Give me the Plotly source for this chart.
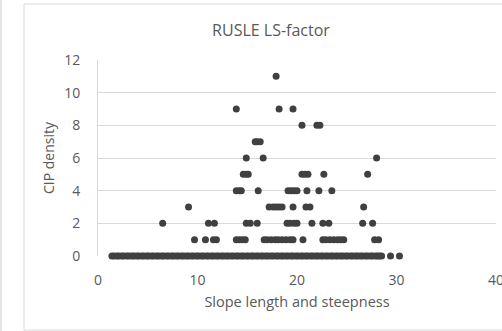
import plotly.graph_objects as go

# RUSLE LS-factor values for each CIP density level
ls_at_0 = [1.4, 1.6, 1.9, 2.1, 2.4, 2.6, 2.9, 3.1, 3.4, 3.6, 3.9, 4.1, 4.4, 4.6, 4.9,
           5.1, 5.4, 5.6, 5.9, 6.1, 6.4, 6.6, 6.9, 7.1, 7.4, 7.6, 7.9, 8.1, 8.4, 8.6,
           8.9, 9.1, 9.4, 9.6, 9.9, 10.1, 10.4, 10.6, 10.9, 11.1, 11.4, 11.6, 11.9,
           12.1, 12.4, 12.6, 12.9, 13.1, 13.4, 13.6, 13.9, 14.1, 14.4, 14.6, 14.9,
           15.1, 15.4, 15.6, 15.9, 16.1, 16.4, 16.6, 16.9, 17.1, 17.4, 17.6, 17.9,
           18.1, 18.4, 18.6, 18.9, 19.1, 19.4, 19.6, 19.9, 20.1, 20.4, 20.6, 20.9,
           21.1, 21.4, 21.6, 21.9, 22.1, 22.4, 22.6, 22.9, 23.1, 23.4, 23.6, 23.9,
           24.1, 24.4, 24.6, 24.9, 25.1, 25.4, 25.6, 25.9, 26.1, 26.4, 26.6, 26.9,
           27.1, 27.4, 27.6, 27.9, 28.1, 28.3, 28.5, 29.4, 30.3]
ls_at_1 = [9.7, 10.8, 11.6, 11.9, 13.9, 14.2, 14.5, 14.8, 16.7, 17.0, 17.4, 17.8, 18.1,
           18.5, 18.9, 19.3, 19.6, 20.6, 22.6, 22.9, 23.3, 23.7, 24.1, 24.4, 24.7, 27.8, 28.2]
ls_at_2 = [6.5, 11.1, 11.7, 14.9, 15.3, 16.0, 19.0, 19.3, 19.7, 20.0, 21.5, 22.6, 23.2,
           26.6, 27.6]
ls_at_3 = [9.1, 17.2, 17.6, 17.9, 18.2, 18.5, 19.6, 20.9, 21.3, 26.7]
ls_at_4 = [13.9, 14.2, 14.4, 16.1, 19.1, 19.4, 19.7, 20.0, 21.0, 22.2, 23.5]
ls_at_5 = [14.6, 14.9, 15.1, 20.5, 20.8, 21.1, 22.7, 27.1]
ls_at_6 = [14.9, 16.6, 28.0]
ls_at_7 = [15.8, 16.0, 16.3]
ls_at_8 = [20.5, 22.0, 22.3]
ls_at_9 = [13.9, 18.2, 19.6]
ls_at_11 = [17.9]

levels = {0: ls_at_0, 1: ls_at_1, 2: ls_at_2, 3: ls_at_3, 4: ls_at_4, 5: ls_at_5,
          6: ls_at_6, 7: ls_at_7, 8: ls_at_8, 9: ls_at_9, 11: ls_at_11}

xs, ys = [], []
for density, ls_values in levels.items():
    xs.extend(ls_values)
    ys.extend([density] * len(ls_values))

FONT = "Open Sans"
GREY = "#595959"
GRID = "#d9d9d9"
CLEAR = "rgba(0,0,0,0)"

fig = go.Figure(go.Scatter(
    x=xs, y=ys, mode="markers", cliponaxis=False,
    marker=dict(size=7, color="#404040", line=dict(width=0)),
    showlegend=False,
))

fig.update_layout(
    width=502, height=331,
    margin=dict(l=98, r=6, t=60, b=75),
    paper_bgcolor="white", plot_bgcolor="white",
    title=dict(text="RUSLE LS-factor", x=271 / 502, xanchor="center",
               y=1 - 30 / 331, yanchor="middle",
               font=dict(family=FONT, size=16, color=GREY)),
    xaxis=dict(range=[0, 40], dtick=10, showgrid=False, zeroline=False,
               showline=False, ticks="outside", ticklen=11, tickcolor=CLEAR,
               ticklabeloverflow="allow", automargin=False,
               tickfont=dict(family=FONT, size=14, color=GREY),
               title=dict(text="Slope length and steepness", standoff=9,
                          font=dict(family=FONT, size=14.5, color=GREY))),
    yaxis=dict(range=[0, 12], dtick=2, showgrid=True, gridcolor=GRID, gridwidth=1,
               zeroline=False, showline=True, linecolor=GRID, linewidth=1,
               ticks="outside", ticklen=14, tickcolor=CLEAR, automargin=False,
               tickfont=dict(family=FONT, size=14, color=GREY),
               title=dict(text="CIP density", standoff=6,
                          font=dict(family=FONT, size=14, color=GREY))),
    shapes=[
        # chart border
        dict(type="rect", xref="paper", yref="paper",
             x0=(24 - 98) / 398, x1=(505 - 98) / 398,
             y0=(256 - 330) / 196, y1=(256 - 4) / 196,
             line=dict(color=GRID, width=1), layer="below"),
        # neighbouring panel edge
        dict(type="line", xref="paper", yref="paper",
             x0=(1 - 98) / 398, x1=(1 - 98) / 398,
             y0=(256 - 331) / 196, y1=(256 - 0) / 196,
             line=dict(color="#e6e6e6", width=2), layer="below"),
    ],
)

fig.write_html("out.html")
